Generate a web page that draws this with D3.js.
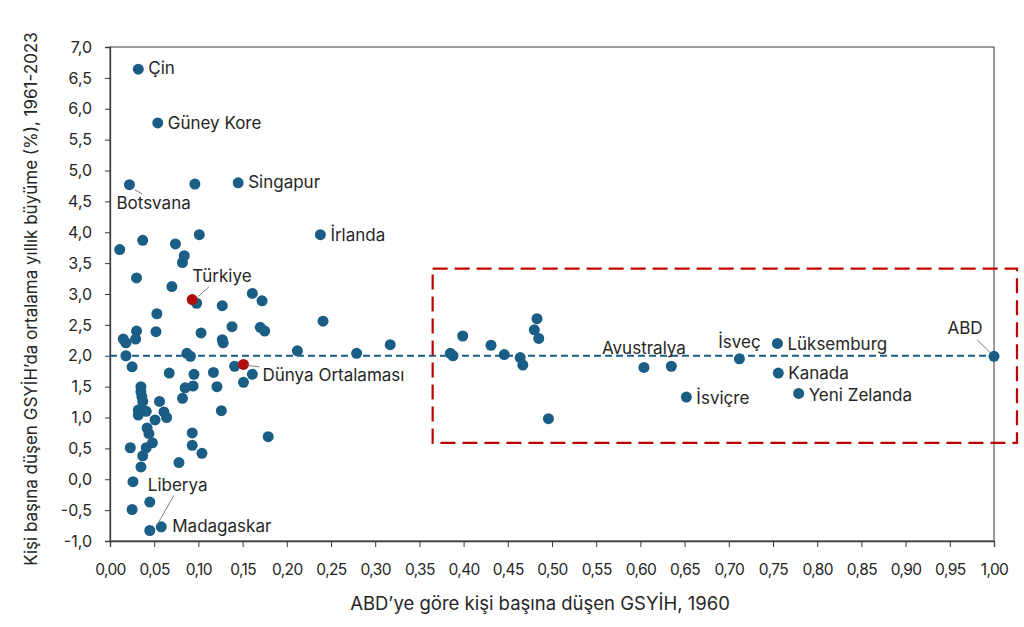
<!DOCTYPE html>
<html>
<head>
<meta charset="utf-8">
<script src="https://cdn.jsdelivr.net/npm/d3@7"></script>
<style>
  html, body { margin: 0; padding: 0; background: #fff; }
  svg { display: block; }
  text { font-family: Inter, "Liberation Sans", Arial, sans-serif; }
</style>
</head>
<body>
<svg id="chart" width="1024" height="627"></svg>
<script>
// ---------------- DATA ----------------
const countries = [
  "Çin","Güney Kore","Botsvana","","Singapur","İrlanda","","","","",
  "","","","","Türkiye","","","","","",
  "","","","","","","","","","",
  "","","","","","","","","","",
  "","","Dünya Ortalaması","","","","","","","",
  "","","","","","","","","","",
  "","","","","","","","","","",
  "","","","Liberya","Madagaskar",
  "","","","","","","","","","",
  "","","","","","","","Avustralya","İsviçre","İsveç","Lüksemburg","Kanada","Yeni Zelanda","ABD"
];
const gdpRatio1960 = [
  0.032,0.054,0.022,0.096,0.145,0.238,0.011,0.037,0.074,0.101,
  0.084,0.082,0.030,0.070,0.093,0.098,0.161,0.172,0.127,0.241,
  0.053,0.138,0.170,0.175,0.030,0.052,0.103,0.127,0.128,0.015,
  0.018,0.029,0.018,0.212,0.279,0.317,0.087,0.091,0.025,0.067,
  0.095,0.117,0.151,0.141,0.161,0.151,0.035,0.035,0.036,0.037,
  0.056,0.085,0.094,0.121,0.082,0.032,0.036,0.041,0.032,0.061,
  0.064,0.051,0.126,0.042,0.044,0.093,0.048,0.041,0.023,0.093,
  0.104,0.037,0.035,0.045,0.058,
  0.078,0.179,0.026,0.045,0.025,0.385,0.388,0.399,0.431,0.446,
  0.464,0.467,0.483,0.480,0.485,0.496,0.635,0.604,0.652,0.712,0.755,0.756,0.779,1.000
];
const growth = [
  6.64,5.77,4.77,4.78,4.80,3.96,3.72,3.87,3.81,3.96,
  3.62,3.51,3.26,3.12,2.91,2.85,3.01,2.89,2.81,2.56,
  2.68,2.47,2.46,2.40,2.40,2.39,2.37,2.26,2.21,2.27,
  2.21,2.27,2.00,2.08,2.04,2.18,2.04,1.99,1.82,1.72,
  1.70,1.73,1.86,1.83,1.70,1.57,1.50,1.42,1.34,1.26,
  1.26,1.48,1.51,1.50,1.31,1.12,1.11,1.10,1.04,1.09,
  1.00,0.96,1.11,0.83,0.74,0.75,0.59,0.51,0.51,0.55,
  0.42,0.38,0.20,-0.83,-0.77,
  0.27,0.69,-0.04,-0.37,-0.49,2.04,2.00,2.32,2.17,2.02,
  1.97,1.85,2.60,2.42,2.28,0.98,1.83,1.81,1.33,1.95,2.20,1.72,1.39,1.99
];
const highlighted = ["Türkiye","Dünya Ortalaması"];
const xTicks = d3.range(0, 1.0001, 0.05);
const yTicks = d3.range(-1, 7.0001, 0.5);
const worldAverageLine = 2.0;
const focusBox = { x0: 0.365, x1: 1.026, y0: 0.59, y1: 3.41 };
const xTitle = "ABD\u2019ye göre kişi başına düşen GSYİH, 1960";
const yTitle = "Kişi başına düşen GSYİH\u2019da ortalama yıllık büyüme (%),  1961-2023";

// ---------------- LAYOUT (label placement) ----------------
const labelLayout = {
  "Çin":              { dx: 10, dy: -1, anchor: "start" },
  "Güney Kore":       { dx: 10, dy: 0, anchor: "start" },
  "Singapur":         { dx: 10, dy: -1, anchor: "start" },
  "İrlanda":          { dx: 10, dy: 0, anchor: "start" },
  "Botsvana":         { dx: -13, dy: 18, anchor: "start", leader: [[5,5],[12.5,9]] },
  "Türkiye":          { dx: 0, dy: -24, anchor: "start", leader: [[6,-3],[17,-13]] },
  "Dünya Ortalaması": { dx: 19, dy: 10, anchor: "start", leader: [[4,1],[16,2.5]] },
  "Liberya":          { dx: -2, dy: -46, anchor: "start", leader: [[7,-5],[24,-35]] },
  "Madagaskar":       { dx: 11, dy: -1, anchor: "start" },
  "Avustralya":       { dx: 0, dy: -20, anchor: "middle" },
  "İsveç":            { dx: 0, dy: -17, anchor: "middle" },
  "Lüksemburg":       { dx: 10, dy: 0, anchor: "start" },
  "Kanada":           { dx: 10, dy: 0, anchor: "start" },
  "İsviçre":          { dx: 10, dy: 1, anchor: "start" },
  "Yeni Zelanda":     { dx: 10, dy: 1, anchor: "start" },
  "ABD":              { dx: -29, dy: -28, anchor: "middle", leader: [[-4,-4],[-17,-16.5]] }
};

const data = countries.map((name, i) => ({ name, x: gdpRatio1960[i], y: growth[i],
  hi: highlighted.includes(name) }));

// ---------------- CHART ----------------
const svg = d3.select("#chart");
const plot = { left: 110, right: 994, top: 47, bottom: 541 };
const x = d3.scaleLinear().domain([0, 1]).range([plot.left, plot.right]);
const y = d3.scaleLinear().domain([-1, 7]).range([plot.bottom, plot.top]);

const blue = "#1A5E85", red = "#B00E0E", axisCol = "#3a3a3a", textCol = "#262626";
const fmt = (d, n) => d.toFixed(n).replace(".", ",");
const FONT = "Inter, 'Liberation Sans', Arial, sans-serif";

// frame (top & right)
svg.append("rect")
  .attr("x", plot.left).attr("y", plot.top)
  .attr("width", plot.right - plot.left).attr("height", plot.bottom - plot.top)
  .attr("fill", "none").attr("stroke", axisCol).attr("stroke-width", 1);

// axes
const yAxis = d3.axisLeft(y).tickValues(yTicks).tickSize(5).tickPadding(13)
  .tickFormat(d => fmt(d, 1));
const gy = svg.append("g").attr("transform", `translate(${plot.left},0)`).call(yAxis);
const xAxis = d3.axisBottom(x).tickValues(xTicks).tickSize(6).tickPadding(17)
  .tickFormat(d => fmt(d, 2));
const gx = svg.append("g").attr("transform", `translate(0,${plot.bottom})`).call(xAxis);
[gx, gy].forEach(g => {
  g.select(".domain").attr("stroke", axisCol).attr("stroke-width", 1.3);
  g.selectAll(".tick line").attr("stroke", axisCol).attr("stroke-width", 1);
  g.selectAll(".tick text").attr("fill", textCol)
    .style("font-family", FONT).style("font-size", "16px");
});
gx.selectAll(".tick text").style("font-size", "15.5px").style("letter-spacing", "-0.6px");

// axis titles
svg.append("text")
  .attr("x", 540).attr("y", 604).attr("dy", "0.35em")
  .attr("text-anchor", "middle").attr("fill", textCol).style("font-size", "18.5px")
  .text(xTitle);
svg.append("text")
  .attr("transform", "translate(31,299) rotate(-90)").attr("dy", "0.35em")
  .attr("text-anchor", "middle").attr("fill", textCol).style("font-size", "17px")
  .text(yTitle);

// world average dashed line
svg.append("line")
  .attr("x1", x(0)).attr("x2", x(1))
  .attr("y1", y(worldAverageLine)).attr("y2", y(worldAverageLine))
  .attr("stroke", blue).attr("stroke-width", 2).attr("stroke-dasharray", "7,4");

// points
svg.append("g").selectAll("circle")
  .data(data.filter(d => !d.hi)).join("circle")
  .attr("cx", d => x(d.x)).attr("cy", d => y(d.y)).attr("r", 5.5)
  .attr("fill", blue);
svg.append("g").selectAll("circle")
  .data(data.filter(d => d.hi)).join("circle")
  .attr("cx", d => x(d.x)).attr("cy", d => y(d.y)).attr("r", 5.5)
  .attr("fill", red);

// focus box
svg.append("rect")
  .attr("x", x(focusBox.x0)).attr("y", y(focusBox.y1))
  .attr("width", x(focusBox.x1) - x(focusBox.x0))
  .attr("height", y(focusBox.y0) - y(focusBox.y1))
  .attr("fill", "none").attr("stroke", "#C00000").attr("stroke-width", 2.2)
  .attr("stroke-dasharray", "15,7");

// labels
const labeled = data.filter(d => d.name && labelLayout[d.name]);
const lg = svg.append("g");
labeled.forEach(d => {
  const L = labelLayout[d.name];
  const px = x(d.x), py = y(d.y);
  if (L.leader) {
    lg.append("line")
      .attr("x1", px + L.leader[0][0]).attr("y1", py + L.leader[0][1])
      .attr("x2", px + L.leader[1][0]).attr("y2", py + L.leader[1][1])
      .attr("stroke", "#7f7f7f").attr("stroke-width", 1);
  }
  lg.append("text")
    .attr("x", px + L.dx).attr("y", py + L.dy).attr("dy", "0.36em")
    .attr("text-anchor", L.anchor).attr("fill", textCol)
    .style("font-size", "17px").text(d.name);
});
</script>
</body>
</html>
